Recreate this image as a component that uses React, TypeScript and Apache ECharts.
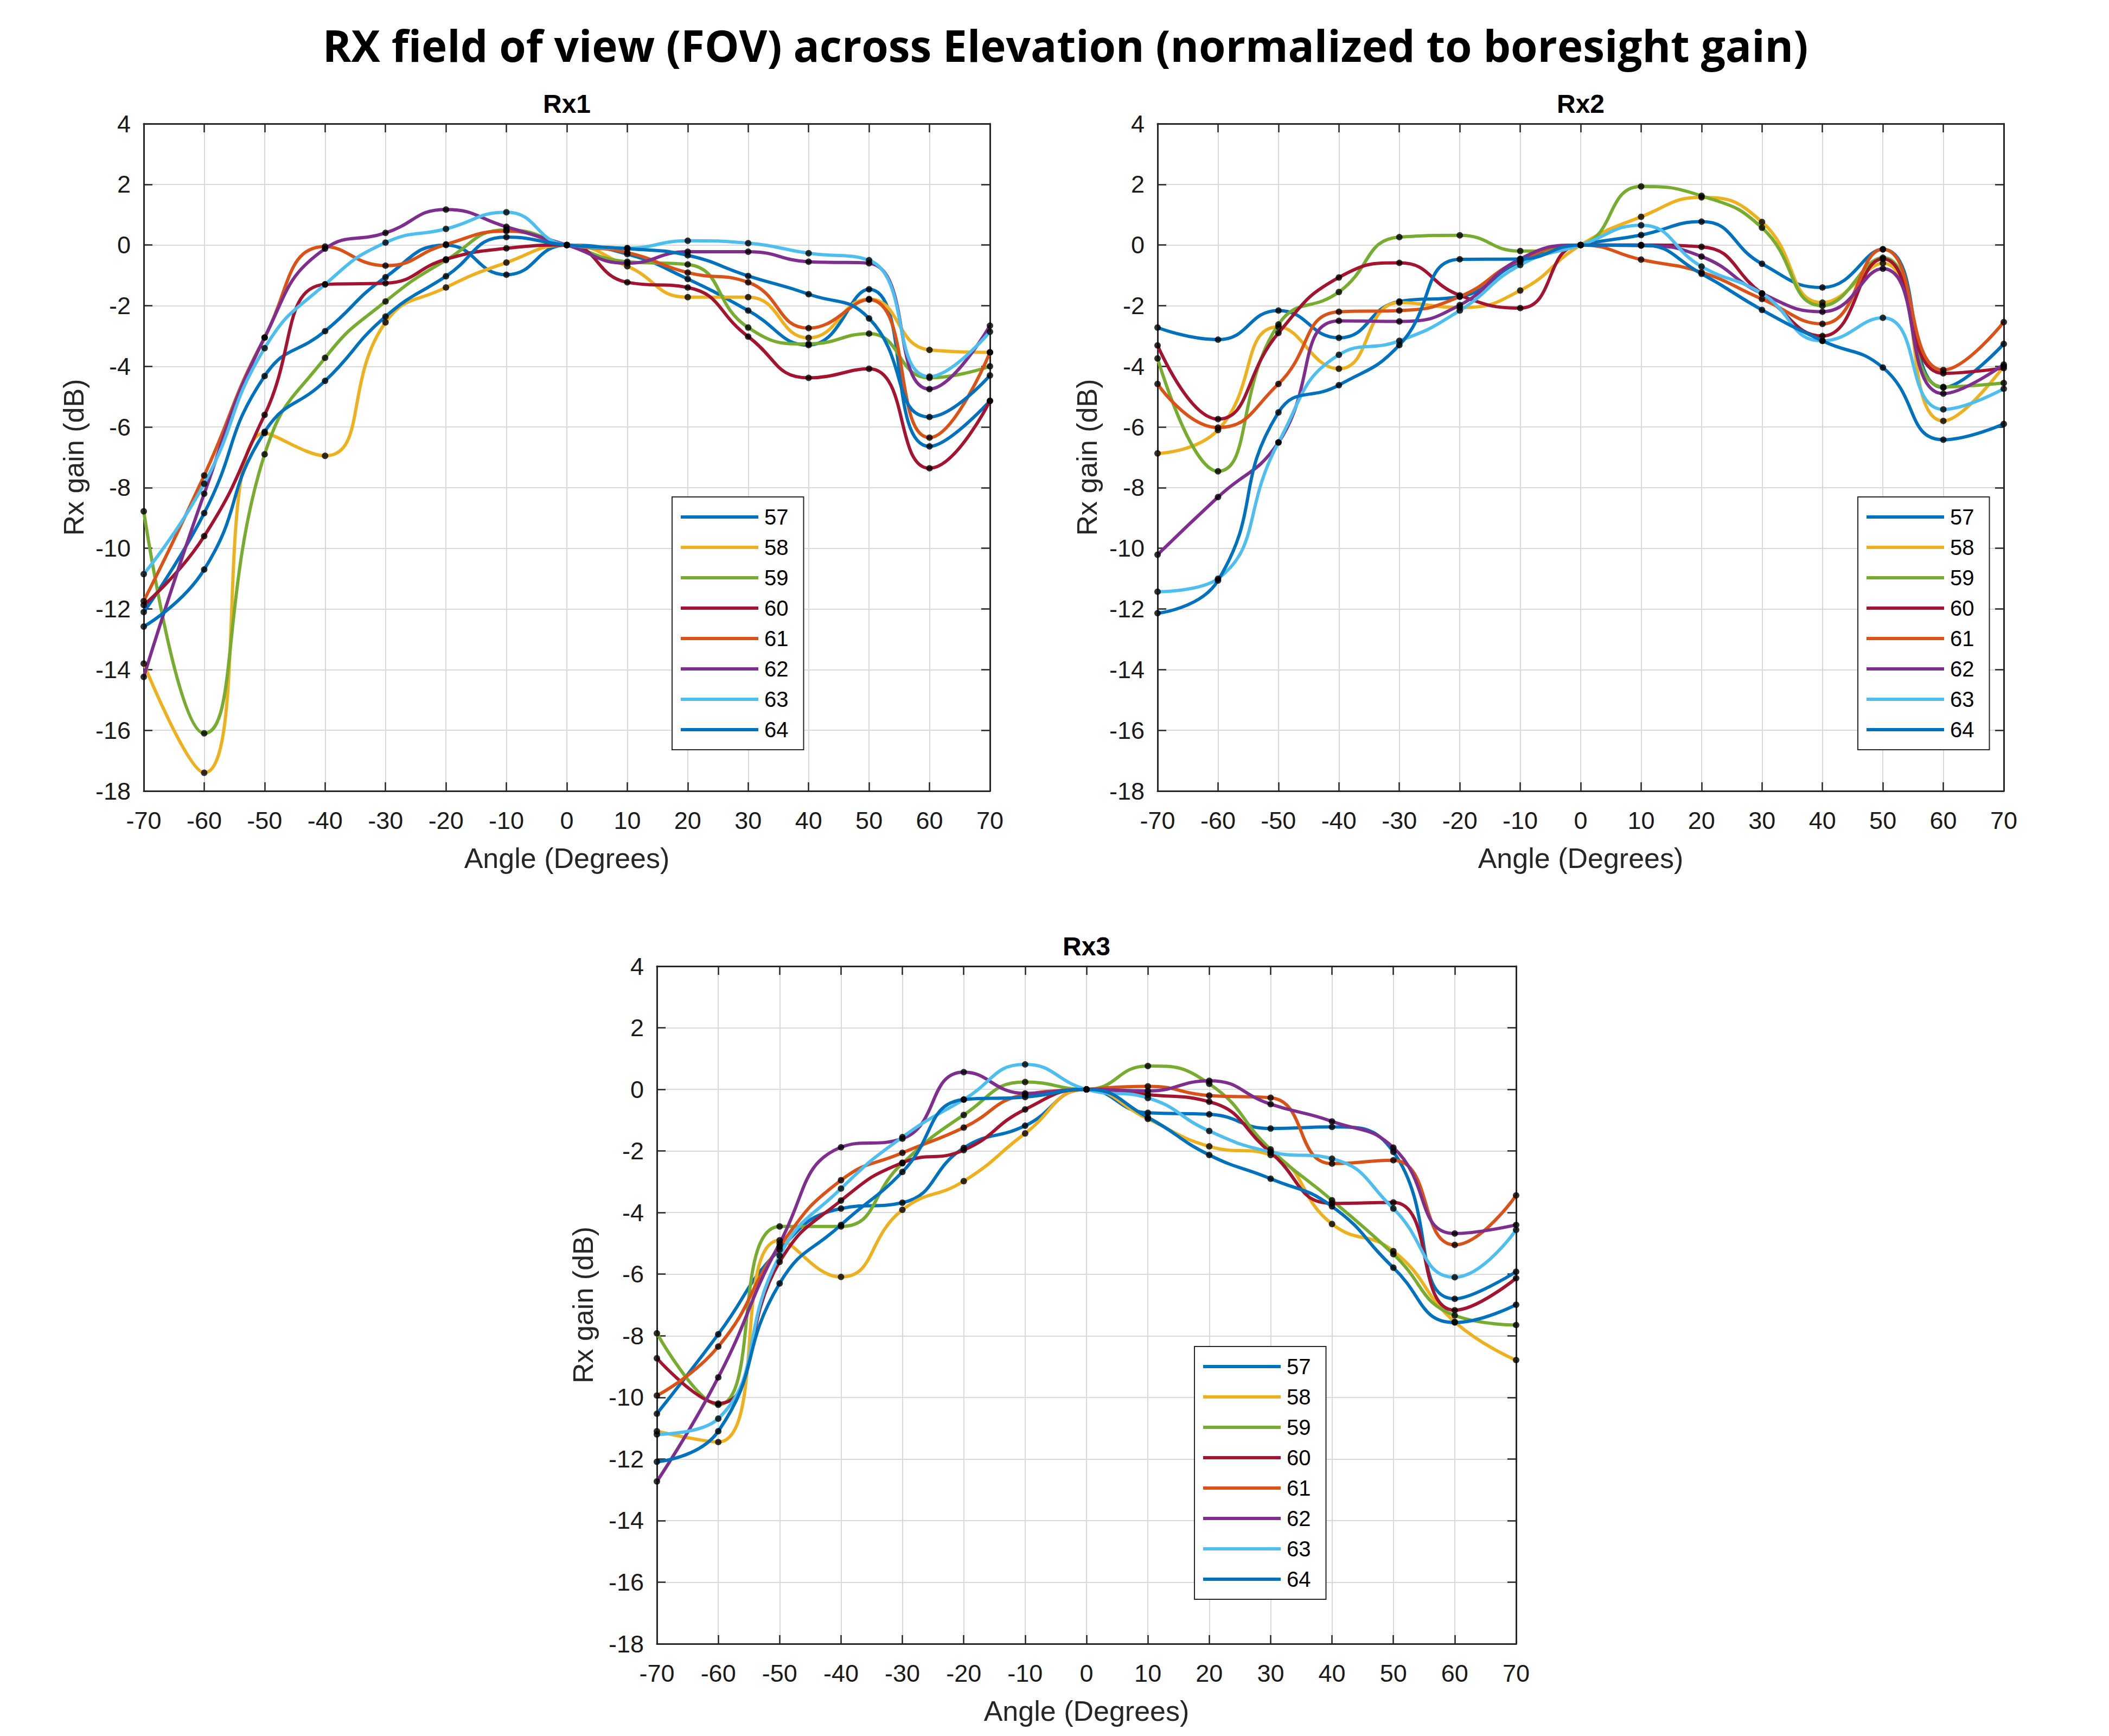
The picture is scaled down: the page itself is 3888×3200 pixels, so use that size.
import React, { useEffect, useRef } from 'react';
import * as echarts from 'echarts';

// ---------- data ----------
const ANGLES = [-70, -60, -50, -40, -30, -20, -10, 0, 10, 20, 30, 40, 50, 60, 70];
const SERIES_NAMES = ['57', '58', '59', '60', '61', '62', '63', '64'];
const SERIES_COLORS = ['#0072BD', '#EDB120', '#77AC30', '#A2142F', '#D95319', '#7E2F8E', '#4DBEEE', '#0072BD'];
const PANEL_TITLES = ['Rx1', 'Rx2', 'Rx3'];
const MAIN_TITLE = 'RX field of view (FOV) across Elevation (normalized to boresight gain)';
const X_NAME = 'Angle (Degrees)';
const Y_NAME = 'Rx gain (dB)';
const X_MIN = -70, X_MAX = 70, X_STEP = 10;
const Y_MIN = -18, Y_MAX = 4, Y_STEP = 2;

// Rx1
const RX1_57 = [-12.1, -8.84, -4.32, -2.84, -1.06, 0.0, -0.98, 0, -0.3, -1.12, -2.16, -3.3, -1.46, -6.64, -5.14];
const RX1_58 = [-13.8, -17.4, -6.2, -6.95, -2.55, -1.4, -0.58, 0, -0.7, -1.72, -1.72, -3.06, -1.78, -3.46, -3.54];
const RX1_59 = [-8.78, -16.1, -6.9, -3.72, -1.86, -0.5, 0.5, 0, -0.55, -0.64, -2.72, -3.26, -2.92, -4.38, -4.0];
const RX1_60 = [-11.87, -9.6, -5.6, -1.3, -1.26, -0.47, -0.11, 0, -1.23, -1.4, -3.02, -4.38, -4.08, -7.36, -5.14];
const RX1_61 = [-11.74, -7.6, -3.05, -0.05, -0.68, 0.02, 0.46, 0, -0.25, -0.91, -1.23, -2.74, -1.8, -6.35, -3.54];
const RX1_62 = [-14.24, -8.2, -3.05, -0.12, 0.4, 1.17, 0.6, 0, -0.6, -0.22, -0.22, -0.55, -0.6, -4.75, -2.66];
const RX1_63 = [-10.85, -7.87, -3.4, -1.3, 0.08, 0.53, 1.08, 0, -0.1, 0.14, 0.06, -0.27, -0.5, -4.34, -2.86];
const RX1_64 = [-12.58, -10.7, -6.16, -4.48, -2.36, -1.03, 0.26, 0, -0.12, -0.34, -1.02, -1.62, -2.42, -5.67, -4.3];

// Rx2
const RX2_57 = [-2.72, -3.12, -2.16, -3.06, -1.86, -1.7, -0.55, 0, 0.33, 0.77, -0.62, -1.4, -0.14, -4.7, -3.26];
const RX2_58 = [-6.87, -6.1, -2.7, -4.08, -1.9, -2.06, -1.5, 0, 0.93, 1.57, 0.76, -1.9, -0.6, -5.8, -4.0];
const RX2_59 = [-3.74, -7.46, -2.62, -1.55, 0.26, 0.32, -0.2, 0, 1.93, 1.62, 0.57, -2.0, -0.42, -4.68, -4.55];
const RX2_60 = [-3.31, -5.74, -2.9, -1.07, -0.59, -1.66, -2.08, 0, 0.0, -0.06, -1.6, -3.0, -0.46, -4.23, -4.06];
const RX2_61 = [-4.58, -6.02, -4.58, -2.2, -2.16, -1.7, -0.5, 0, -0.48, -0.9, -1.78, -2.6, -0.14, -4.12, -2.54];
const RX2_62 = [-10.21, -8.31, -6.51, -2.5, -2.52, -1.98, -0.46, 0, -0.02, -0.38, -1.6, -2.2, -0.78, -4.9, -3.94];
const RX2_63 = [-11.43, -11.0, -6.51, -3.62, -3.16, -2.16, -0.66, 0, 0.65, -0.71, -1.6, -3.16, -2.4, -5.42, -4.74];
const RX2_64 = [-12.14, -11.06, -5.52, -4.62, -3.3, -0.47, -0.46, 0, 0.0, -0.95, -2.14, -3.16, -4.04, -6.42, -5.9];

// Rx3
const RX3_57 = [-10.53, -7.95, -5.2, -3.87, -3.68, -1.9, -1.18, 0, -0.76, -0.81, -1.27, -1.22, -2.03, -6.8, -5.92];
const RX3_58 = [-11.1, -11.45, -4.9, -6.09, -3.91, -2.98, -1.43, 0, -0.96, -1.85, -2.13, -4.37, -5.25, -7.55, -8.79];
const RX3_59 = [-7.92, -10.24, -4.45, -4.45, -2.4, -0.83, 0.24, 0, 0.76, 0.18, -1.95, -3.6, -5.35, -7.34, -7.65];
const RX3_60 = [-8.73, -10.2, -5.6, -3.61, -2.38, -1.97, -0.65, 0, -0.17, -0.4, -2.05, -3.7, -3.67, -7.17, -6.13];
const RX3_61 = [-9.94, -8.35, -5.1, -2.95, -2.06, -1.24, -0.17, 0, 0.1, -0.2, -0.27, -2.41, -2.3, -5.05, -3.44];
const RX3_62 = [-12.73, -9.35, -5.0, -1.88, -1.6, 0.56, -0.13, 0, -0.05, 0.28, -0.48, -1.04, -1.89, -4.68, -4.4];
const RX3_63 = [-11.2, -10.69, -5.4, -3.22, -1.55, -0.33, 0.81, 0, -0.28, -1.35, -2.03, -2.25, -3.87, -6.1, -4.56];
const RX3_64 = [-12.09, -11.1, -6.3, -4.4, -2.68, -0.33, -0.25, 0, -0.91, -2.13, -2.9, -3.8, -5.79, -7.57, -6.99];

const RX1 = [RX1_57, RX1_58, RX1_59, RX1_60, RX1_61, RX1_62, RX1_63, RX1_64];
const RX2 = [RX2_57, RX2_58, RX2_59, RX2_60, RX2_61, RX2_62, RX2_63, RX2_64];
const RX3 = [RX3_57, RX3_58, RX3_59, RX3_60, RX3_61, RX3_62, RX3_63, RX3_64];
const PANEL_DATA = [RX1, RX2, RX3];

// ---------- layout ----------
const LAYOUT = [
  { grid: { left: 265, top: 228, width: 1560, height: 1230 }, titleX: 1045, titleY: 167, legend: { left: 1239, top: 916 }, yGap: 103 },
  { grid: { left: 2134, top: 228, width: 1560, height: 1230 }, titleX: 2914, titleY: 167, legend: { left: 3425, top: 916 }, yGap: 104 },
  { grid: { left: 1211, top: 1781, width: 1584, height: 1249 }, titleX: 2003, titleY: 1720, legend: { left: 2202, top: 2482 }, yGap: 110 },
];

const FONT = '"Liberation Sans", Arial, sans-serif';
const AXIS_COLOR = '#262626';
const GRID_COLOR = '#d9d9d9';

function buildOption() {
  const xAxis: any[] = [];
  const yAxis: any[] = [];
  const series: any[] = [];
  const legend: any[] = [];
  const title: any[] = [
    {
      text: MAIN_TITLE,
      left: 1964,
      top: 42,
      textAlign: 'center',
      padding: 0,
      textStyle: { fontFamily: '"Open Sans", sans-serif', fontWeight: 'bold', fontSize: 80, color: '#000' },
    },
  ];

  LAYOUT.forEach((lay, p) => {
    title.push({
      text: PANEL_TITLES[p],
      left: lay.titleX,
      top: lay.titleY,
      textAlign: 'center',
      padding: 0,
      textStyle: { fontFamily: FONT, fontWeight: 'bold', fontSize: 48, color: '#000' },
    });

    const axisLine = { show: true, onZero: false, lineStyle: { color: AXIS_COLOR, width: 3 } };
    const axisTick = { show: true, inside: true, length: 16, lineStyle: { color: AXIS_COLOR, width: 2.5 } };

    xAxis.push({
      type: 'value', gridIndex: p, position: 'bottom',
      min: X_MIN, max: X_MAX, interval: X_STEP,
      axisLine, axisTick,
      axisLabel: { fontFamily: FONT, fontSize: 45, color: '#1a1a1a', margin: 32 },
      splitLine: { show: true, lineStyle: { color: GRID_COLOR, width: 2 } },
      name: X_NAME, nameLocation: 'middle', nameGap: 98,
      nameTextStyle: { fontFamily: FONT, fontSize: 52, color: AXIS_COLOR },
    });
    xAxis.push({
      type: 'value', gridIndex: p, position: 'top',
      min: X_MIN, max: X_MAX, interval: X_STEP,
      axisLine, axisTick,
      axisLabel: { show: false },
      splitLine: { show: false },
    });
    yAxis.push({
      type: 'value', gridIndex: p, position: 'left',
      min: Y_MIN, max: Y_MAX, interval: Y_STEP,
      axisLine, axisTick,
      axisLabel: { fontFamily: FONT, fontSize: 45, color: '#1a1a1a', margin: 24 },
      splitLine: { show: true, lineStyle: { color: GRID_COLOR, width: 2 } },
      name: Y_NAME, nameLocation: 'middle', nameGap: lay.yGap,
      nameTextStyle: { fontFamily: FONT, fontSize: 52, color: AXIS_COLOR },
    });
    yAxis.push({
      type: 'value', gridIndex: p, position: 'right',
      min: Y_MIN, max: Y_MAX, interval: Y_STEP,
      axisLine, axisTick,
      axisLabel: { show: false },
      splitLine: { show: false },
    });

    const dots: number[][] = [];
    PANEL_DATA[p].forEach((vals, s) => {
      const pts = ANGLES.map((a, i) => [a, vals[i]]);
      pts.forEach((pt) => dots.push(pt));
      series.push({
        type: 'line',
        name: SERIES_NAMES[s],
        xAxisIndex: p * 2,
        yAxisIndex: p * 2,
        data: pts,
        smooth: 0.5,
        symbol: 'none',
        color: SERIES_COLORS[s],
        lineStyle: { color: SERIES_COLORS[s], width: 6 },
      });
    });
    series.push({
      type: 'scatter',
      name: 'points' + p,
      xAxisIndex: p * 2,
      yAxisIndex: p * 2,
      data: dots,
      symbol: 'circle',
      symbolSize: 12,
      itemStyle: { color: '#000' },
      z: 5,
    });

    legend.push({
      orient: 'vertical',
      left: lay.legend.left,
      top: lay.legend.top,
      data: SERIES_NAMES.map((n, i) => ({ name: n, icon: 'rect', itemStyle: { color: SERIES_COLORS[i] } })),
      itemWidth: 143,
      itemHeight: 6,
      itemGap: 16,
      padding: [17, 28, 17, 16],
      borderColor: AXIS_COLOR,
      borderWidth: 2,
      backgroundColor: '#fff',
      selectedMode: false,
      textStyle: { fontFamily: FONT, fontSize: 40, lineHeight: 40, color: '#000', padding: [0, 0, 0, 6] },
    });
  });

  return {
    animation: false,
    backgroundColor: '#fff',
    textStyle: { fontFamily: FONT },
    title,
    grid: LAYOUT.map((l) => ({ ...l.grid, containLabel: false })),
    xAxis,
    yAxis,
    legend,
    series,
  };
}

export default function App() {
  const ref = useRef<HTMLDivElement>(null);
  useEffect(() => {
    document.body.style.margin = '0';
    if (!ref.current) return;
    const chart = echarts.init(ref.current, undefined, { renderer: 'svg' });
    chart.setOption(buildOption() as any);
    return () => chart.dispose();
  }, []);
  return <div ref={ref} style={{ width: 3888, height: 3200 }} />;
}
